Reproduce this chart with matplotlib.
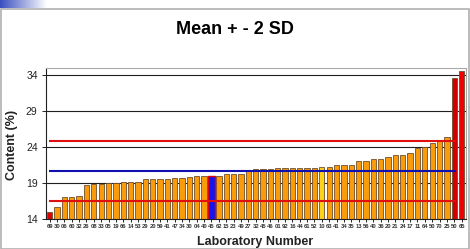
import matplotlib.pyplot as plt
import numpy as np
from matplotlib.patches import Rectangle

plt.rcParams['font.family'] = ['Liberation Sans', 'DejaVu Sans']

# laboratory codes, sorted by result
labs = ['69', '30', '06', '60', '32', '26', '08', '33', '05', '19', '66', '14', '53', '29',
        '20', '59', '41', '47', '34', '30', '04', '40', '45', '62', '15', '23', '49', '27',
        '32', '45', '46', '01', '92', '16', '44', '61', '52', '10', '63', '41', '34', '35',
        '13', '56', '40', '36', '20', '21', '24', '17', '11', '64', '50', '70', '25', '50', '65']
content = [15.0, 15.6, 16.95, 16.95, 17.2, 18.7, 18.8, 18.8, 18.95, 18.95, 19.05, 19.05, 19.1, 19.55,
           19.55, 19.55, 19.55, 19.6, 19.65, 19.8, 20.0, 20.0, 20.0, 20.0, 20.15, 20.15, 20.15, 20.8,
           20.9, 20.9, 20.9, 21.0, 21.0, 21.0, 21.0, 21.0, 21.1, 21.2, 21.2, 21.4, 21.4, 21.4,
           22.05, 22.05, 22.3, 22.3, 22.65, 22.9, 22.9, 23.1, 23.9, 23.95, 24.5, 24.8, 25.4, 33.5, 34.5]
mean = 20.6
lower = 16.4
upper = 24.8
yticks = [14, 19, 24, 29, 34]

n = len(content)
x = np.arange(n)
colors = ['#FA9C0A'] * n
edges = ['#6E5030'] * n
colors[0] = '#E00000'
colors[-1] = '#EE0000'
colors[-2] = '#D00000'
colors[22] = '#1414F0'
edges[22] = '#E00000'
colors[37] = '#FFD21A'

fig = plt.figure(figsize=(4.7, 2.49), dpi=100)

# slide decoration: blue strip top-left and grey frame
strip = np.linspace(1, 0, 200).reshape(1, -1)
sax = fig.add_axes([0, 1 - 8 / 249, 0.1, 8 / 249])
sax.imshow(strip, aspect='auto', cmap=plt.matplotlib.colors.LinearSegmentedColormap.from_list(
    'b', ['#FFFFFF', '#3A4FC0']))
sax.axis('off')
fig.patches.append(Rectangle((0.003, 0.0), 0.994, 1 - 9 / 249, transform=fig.transFigure,
                             fill=False, edgecolor='#B0B0B0', linewidth=1.2))

ax = fig.add_axes([46 / 470, 30.3 / 249, 420 / 470, 151 / 249])
ax.set_axisbelow(True)
ax.yaxis.grid(True, color='#202020', linewidth=0.8)
ax.bar(x, content, width=0.72, bottom=0, color=colors, edgecolor=edges, linewidth=0.6, zorder=2)
ax.bar(22, content[22], width=0.9, color=colors[22], edgecolor='#E00000', linewidth=1.0, zorder=3)

ax.hlines([upper, lower], -0.1, 55.3, colors='#E01010', linewidth=1.5, zorder=4)
ax.hlines(mean, -0.1, 55.3, colors='#1010B0', linewidth=1.5, zorder=4)

ax.set_xlim(-0.5, n - 0.4)
ax.set_ylim(14, 35)
ax.set_yticks(yticks)
ax.set_yticklabels([str(t) for t in yticks], fontsize=7.5, color='#222222')
ax.set_xticks(x)
ax.set_xticklabels(labs, fontsize=4.2, fontweight='bold', color='#333333')
ax.tick_params(axis='x', length=2, pad=1.5, width=0.6)
ax.tick_params(axis='y', length=3, pad=3, width=0.6)
for s in ['top', 'right']:
    ax.spines[s].set_color('#AAAAAA')
for s in ['left', 'bottom']:
    ax.spines[s].set_color('#202020')

fig.text(0.5, 1 - 29 / 249, 'Mean + - 2 SD', ha='center', va='center',
         fontsize=13, fontweight='bold')
fig.text(12 / 470, 1 - 145 / 249, 'Content (%)', rotation=90, ha='center', va='center',
         fontsize=9, fontweight='bold', color='#222222')
fig.text(255 / 470, 1 - 242 / 249, 'Laboratory Number', ha='center', va='center',
         fontsize=9, fontweight='bold', color='#222222')

fig.savefig('out.png', dpi=100)
